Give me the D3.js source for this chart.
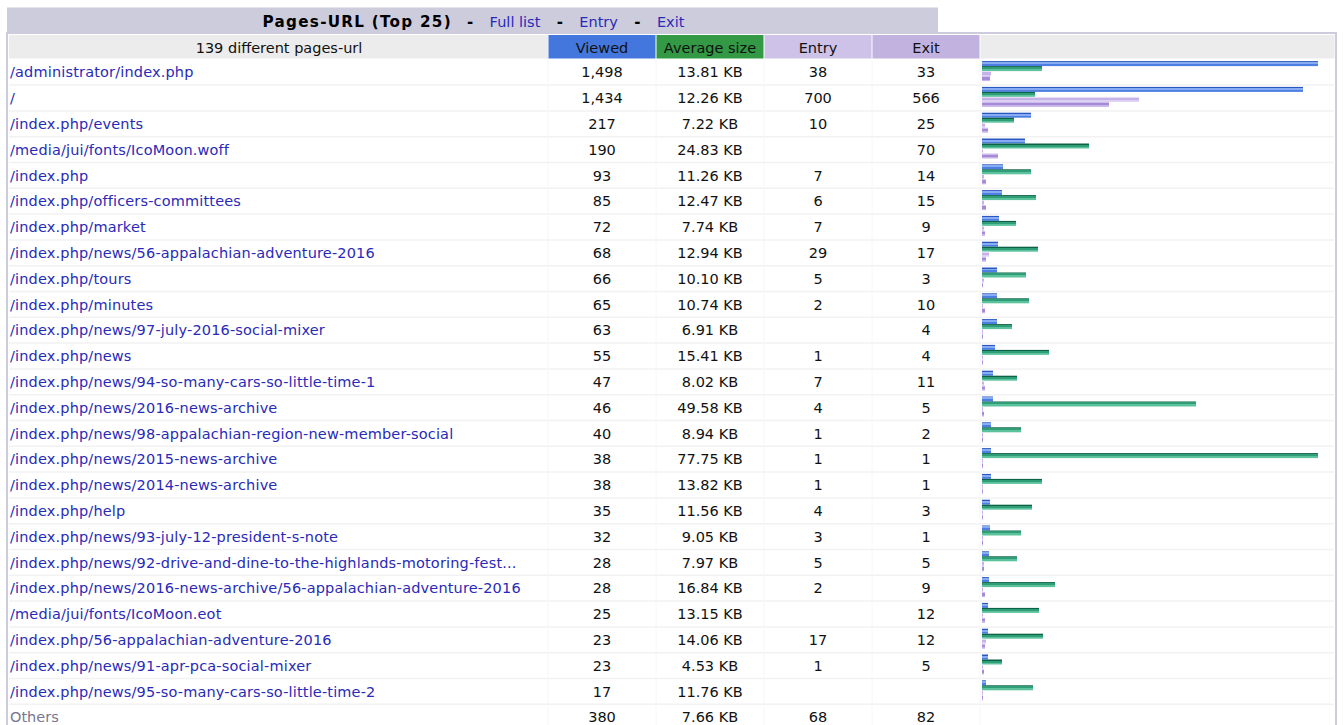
<!DOCTYPE html>
<html><head><meta charset="utf-8">
<script src="https://cdn.jsdelivr.net/npm/d3@7"></script>
<style>body{margin:0;background:#fff;overflow:hidden}</style>
</head><body><svg id="c" width="1343" height="725"></svg>
<script>
const urls = [
"/administrator/index.php","/","/index.php/events","/media/jui/fonts/IcoMoon.woff","/index.php",
"/index.php/officers-committees","/index.php/market","/index.php/news/56-appalachian-adventure-2016",
"/index.php/tours","/index.php/minutes","/index.php/news/97-july-2016-social-mixer","/index.php/news",
"/index.php/news/94-so-many-cars-so-little-time-1","/index.php/news/2016-news-archive",
"/index.php/news/98-appalachian-region-new-member-social","/index.php/news/2015-news-archive",
"/index.php/news/2014-news-archive","/index.php/help","/index.php/news/93-july-12-president-s-note",
"/index.php/news/92-drive-and-dine-to-the-highlands-motoring-fest...",
"/index.php/news/2016-news-archive/56-appalachian-adventure-2016","/media/jui/fonts/IcoMoon.eot",
"/index.php/56-appalachian-adventure-2016","/index.php/news/91-apr-pca-social-mixer",
"/index.php/news/95-so-many-cars-so-little-time-2"];
const viewed = [1498,1434,217,190,93,85,72,68,66,65,63,55,47,46,40,38,38,35,32,28,28,25,23,23,17];
const avgSize = [13.81,12.26,7.22,24.83,11.26,12.47,7.74,12.94,10.10,10.74,6.91,15.41,8.02,49.58,8.94,77.75,13.82,11.56,9.05,7.97,16.84,13.15,14.06,4.53,11.76];
const entry = [38,700,10,null,7,6,7,29,5,2,null,1,7,4,1,1,1,4,3,5,2,null,17,1,null];
const exit = [33,566,25,70,14,15,9,17,3,10,4,4,11,5,2,1,1,3,1,5,9,12,12,5,null];
const othersLabel = "Others";
const othersValues = [380, 7.66, 68, 82];
const titleText = "Pages-URL (Top 25)";
const titleLinks = ["Full list","Entry","Exit"];
const headers = ["139 different pages-url","Viewed","Average size","Entry","Exit",""];

const svg = d3.select("#c");
const FONT = "DejaVu Sans, Verdana, sans-serif";
const FS = 14.5;

// gradients
const defs = svg.append("defs");
function grad(id, stops){
  const g = defs.append("linearGradient").attr("id",id).attr("x1",0).attr("y1",0).attr("x2",0).attr("y2",1);
  stops.forEach(s=>g.append("stop").attr("offset",s[0]).attr("stop-color",s[1]));
}
grad("gp",[[0,"#2a58c0"],[0.2,"#2a58c0"],[0.2,"#88acf4"],[0.6,"#88acf4"],[0.6,"#4d7fe2"],[1,"#4d7fe2"]]);
grad("gk",[[0,"#0c6244"],[0.2,"#0c6244"],[0.2,"#2f9e78"],[0.6,"#2f9e78"],[0.6,"#5cc29c"],[1,"#5cc29c"]]);
grad("ge",[[0,"#e6dcf6"],[0.2,"#e6dcf6"],[0.2,"#c4b2e8"],[0.7,"#c4b2e8"],[0.7,"#dccff2"],[1,"#dccff2"]]);
grad("gx",[[0,"#cdbcee"],[0.2,"#cdbcee"],[0.2,"#a68ad6"],[0.7,"#a68ad6"],[0.7,"#c7b4ea"],[1,"#c7b4ea"]]);

// columns
const cols = [
  {x0:8,  x1:548, bg:"#ECECEC"},
  {x0:548,x1:656, bg:"#4477DD"},
  {x0:656,x1:764, bg:"#339944"},
  {x0:764,x1:872, bg:"#CEC2E8"},
  {x0:872,x1:980, bg:"#C1B2E0"},
  {x0:980,x1:1335,bg:"#ECECEC"}
];

// title bar
svg.append("rect").attr("x",7).attr("y",7.5).attr("width",931).attr("height",26).attr("fill","#CCCCDD");
// outer border
svg.append("rect").attr("x",7).attr("y",33).attr("width",1329).attr("height",720)
  .attr("fill","none").attr("stroke","#CCCCDD").attr("stroke-width",2);

// title text pieces
const tg = svg.append("g");
const GAP = 39;
let cx = 0;
function piece(t, bold, c, fs, len){
  const el = tg.append("text").attr("x",cx).attr("y",27).attr("font-family",FONT)
    .attr("font-size",fs).attr("font-weight",bold?"bold":"normal").attr("fill",c).text(t);
  if(len){ el.attr("textLength",len).attr("lengthAdjust","spacing"); cx += len; }
  else cx += el.node().getComputedTextLength();
}
function dash(){
  tg.append("text").attr("x",cx+GAP/2).attr("y",27).attr("text-anchor","middle").attr("font-family",FONT)
    .attr("font-size",15).attr("font-weight","bold").attr("fill","#000").text("-");
  cx += GAP;
}
piece(titleText,true,"#000",15.2,188);
titleLinks.forEach(l=>{ dash(); piece(l,false,"#2a2ab8",FS); });
tg.attr("transform",`translate(${473.5 - cx/2},0)`);

// header row
const hy0 = 35, hy1 = 58.5;
cols.forEach((c,i)=>{
  svg.append("rect").attr("x",c.x0+ (i==0?1:0.5)).attr("y",hy0).attr("width",c.x1-c.x0-1).attr("height",hy1-hy0).attr("fill",c.bg);
  if(headers[i]) svg.append("text").attr("x",i==0?279:(c.x0+c.x1)/2).attr("y",52.5).attr("text-anchor","middle")
    .attr("font-family",FONT).attr("font-size",FS).attr("fill","#111").text(headers[i]);
});

// rows
const nRows = urls.length + 1;
const RH = 25.8;
const y = d3.scaleBand().domain(d3.range(nRows)).range([59.3, 59.3 + nRows*RH]).padding(0);
for(let i=1;i<nRows;i++){
  svg.append("line").attr("x1",9).attr("x2",1334).attr("y1",y(i)).attr("y2",y(i)).attr("stroke","#F2F2F2").attr("stroke-width",1.5);
}
[548,656,764,872,980].forEach(xx=>{
  svg.append("line").attr("x1",xx).attr("x2",xx).attr("y1",hy1+1).attr("y2",725).attr("stroke","#F6F6F6").attr("stroke-width",1);
});

const fmtInt = d3.format(",");
const fmtKB = v => v.toFixed(2) + " KB";
const rowsData = urls.map((u,i)=>({label:u, vals:[viewed[i],avgSize[i],entry[i],exit[i]], link:true}));
rowsData.push({label:othersLabel, vals:othersValues, link:false});

const g = svg.append("g").attr("font-family",FONT).attr("font-size",FS);
rowsData.forEach((r,i)=>{
  const ty = y(i) + RH/2 + 5.2;
  g.append("text").attr("x",10).attr("y",ty).attr("fill",r.link?"#2a2ab8":"#777790")
    .attr("letter-spacing",r.link?0.16:0).text(r.label);
  const txt = [r.vals[0]!=null?fmtInt(r.vals[0]):"", r.vals[1]!=null?fmtKB(r.vals[1]):"",
               r.vals[2]!=null?fmtInt(r.vals[2]):"", r.vals[3]!=null?fmtInt(r.vals[3]):""];
  txt.forEach((t,j)=>{
    const c = cols[j+1];
    g.append("text").attr("x",(c.x0+c.x1)/2).attr("y",ty).attr("text-anchor","middle").attr("fill","#111").text(t);
  });
});

// bars
const xP = d3.scaleLinear().domain([0, d3.max(viewed)]).range([0, 335]);
const xK = d3.scaleLinear().domain([0, d3.max(avgSize)]).range([0, 335]);
const BX = 982, BH = 5;
const bg = svg.append("g");
urls.forEach((u,i)=>{
  const top = y(i) + 1.8;
  const bars = [
    {w: Math.floor(xP(viewed[i]))+1, f:"url(#gp)"},
    {w: Math.floor(xK(avgSize[i]))+1, f:"url(#gk)"},
    {w: Math.floor(xP(entry[i]||0))+1, f:"url(#ge)"},
    {w: Math.floor(xP(exit[i]||0))+1, f:"url(#gx)"}
  ];
  bars.forEach((b,j)=>{
    bg.append("rect").attr("x",BX).attr("y",top + j*BH).attr("width",b.w).attr("height",BH).attr("fill",b.f);
  });
});
</script></body></html>
